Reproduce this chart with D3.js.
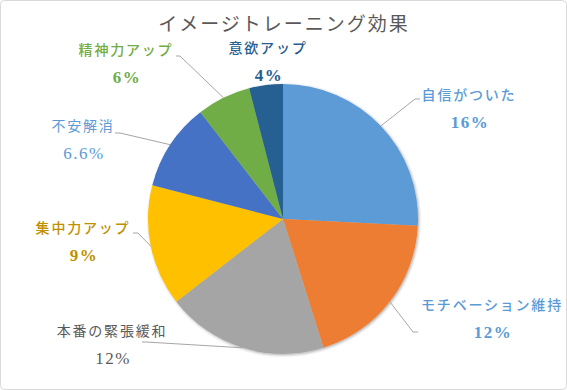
<!DOCTYPE html>
<html><head><meta charset="utf-8">
<script src="https://cdn.jsdelivr.net/npm/d3@7"></script>
<style>
body{margin:0;background:#fff;}
svg{display:block;}
</style></head>
<body>
<svg id="chart" width="567" height="390"></svg>
<script>
// ---- data ----
const title = "イメージトレーニング効果";
const categories = ["自信がついた","モチベーション維持","本番の緊張緩和","集中力アップ","不安解消","精神力アップ","意欲アップ"];
const sliceValues = [16, 12, 12, 9, 6.5, 4, 2.5];
const valueLabels = ["16%","12%","12%","9%","6.6%","6%","4%"];

// ---- styles / layout ----
const sliceColors = ["#5B9BD5","#ED7D31","#A5A5A5","#FFC000","#4472C4","#70AD47","#255E91"];
const labelColors = ["#5B9BD5","#5B9BD5","#595959","#BF9000","#5B9BD5","#70AD47","#255E91"];
const labelWeights = [500,500,400,500,400,500,500];
const labelPos = [[469,95],[492,305],[112,331],[83,228],[83,126],[126,50],[268,48]];
const leaderPts = [[[420,99],[415,99]],[[418,332],[413,332]],[[142,342],[146,342]],[[133,233],[138,233]],[[115,133],[120,133]],[[176,56],[180,56]],null];

const W = 567, H = 390, cx = 283, cy = 219, R = 135;
const svg = d3.select("#chart");

svg.append("rect").attr("x",0.5).attr("y",0.5).attr("width",W-1).attr("height",H-1)
  .attr("rx",4).attr("fill","#fff").attr("stroke","#D9D9D9");

const defs = svg.append("defs");
const f = defs.append("filter").attr("id","sh").attr("x","-10%").attr("y","-10%").attr("width","120%").attr("height","120%");
f.append("feGaussianBlur").attr("in","SourceAlpha").attr("stdDeviation",1.5);
f.append("feOffset").attr("dx",0.5).attr("dy",0.8).attr("result","b");
f.append("feComponentTransfer").append("feFuncA").attr("type","linear").attr("slope",0.35);
const m = f.append("feMerge"); m.append("feMergeNode"); m.append("feMergeNode").attr("in","SourceGraphic");

svg.append("text").attr("x",284).attr("y",31).attr("text-anchor","middle")
  .attr("font-family","'Noto Sans CJK JP'").attr("font-size",19).attr("letter-spacing",2)
  .attr("fill","#595959").text(title);

const data = categories.map((c,i)=>({name:c, value:sliceValues[i], label:valueLabels[i], i}));
const pie = d3.pie().value(d=>d.value).sort(null);
const arcs = pie(data);
const arc = d3.arc().innerRadius(0).outerRadius(R);

const g = svg.append("g").attr("transform",`translate(${cx},${cy})`);
g.append("g").attr("filter","url(#sh)").selectAll("path").data(arcs).join("path")
  .attr("d",arc).attr("fill",d=>sliceColors[d.data.i]);

// leader lines
arcs.forEach(a=>{
  const lp = leaderPts[a.data.i];
  if(!lp) return;
  const mid = (a.startAngle+a.endAngle)/2;
  const ex = cx + R*Math.sin(mid), ey = cy - R*Math.cos(mid);
  svg.append("polyline").attr("points",[lp[0],lp[1],[ex,ey]].map(p=>p.join(",")).join(" "))
    .attr("fill","none").attr("stroke","#A6A6A6").attr("stroke-width",1);
});

// labels
arcs.forEach(a=>{
  const i = a.data.i, p = labelPos[i];
  svg.append("text").attr("x",p[0]).attr("y",p[1]+5).attr("text-anchor","middle")
    .attr("font-family","'Noto Sans CJK JP'").attr("font-size",14).attr("letter-spacing",1.8)
    .attr("font-weight", labelWeights[i])
    .attr("fill",labelColors[i]).text(a.data.name);
  svg.append("text").attr("x",p[0]+1).attr("y",p[1]+33).attr("text-anchor","middle")
    .attr("font-family","'Liberation Serif'").attr("font-size",17).attr("letter-spacing",1.5)
    .attr("font-weight", labelWeights[i] > 400 ? "bold" : "normal")
    .attr("fill",labelColors[i]).text(a.data.label);
});
</script>
</body></html>
